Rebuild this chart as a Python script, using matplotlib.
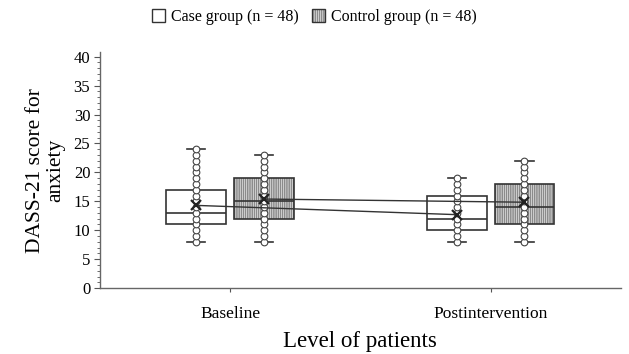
import matplotlib
matplotlib.use("Agg")
import matplotlib.pyplot as plt
from matplotlib.patches import Patch
from matplotlib.ticker import MultipleLocator

plt.rcParams['font.family'] = ['Liberation Serif', 'DejaVu Serif']
plt.rcParams['hatch.linewidth'] = 0.3
plt.rcParams['hatch.color'] = '#888888'

# data
levels = ['Baseline', 'Postintervention']
groups = ['Case group (n = 48)', 'Control group (n = 48)']

case_low = [8, 8]
case_q1 = [11, 10]
case_med = [13, 12]
case_q3 = [17, 16]
case_high = [24, 19]
case_mean = [14.3, 12.7]

ctrl_low = [8, 8]
ctrl_q1 = [12, 11]
ctrl_med = [15, 14]
ctrl_q3 = [19, 18]
ctrl_high = [23, 22]
ctrl_mean = [15.4, 14.85]

case_points = [
    [8, 9, 10, 11, 12, 13, 14, 15, 16, 17, 18, 19, 20, 21, 22, 23, 24],
    [8, 9, 10, 11, 12, 13, 14, 15, 16, 17, 18, 19],
]
ctrl_points = [
    [8, 9, 10, 11, 12, 13, 14, 15, 16, 17, 18, 19, 20, 21, 22, 23],
    [8, 9, 10, 11, 12, 13, 14, 15, 16, 17, 18, 19, 20, 21, 22],
]

fig = plt.figure(figsize=(6.29, 3.54), dpi=100)
ax = fig.add_axes([0.159, 0.186, 0.828, 0.667])

offset = 0.13
width = 0.23
line_c = '#333333'


def make_stats(low, q1, med, q3, high, mean):
    stats = []
    for i in range(len(low)):
        stats.append({'whislo': low[i], 'q1': q1[i], 'med': med[i], 'q3': q3[i],
                      'whishi': high[i], 'mean': mean[i], 'fliers': []})
    return stats


case_pos = [i + 1 - offset for i in range(len(levels))]
ctrl_pos = [i + 1 + offset for i in range(len(levels))]

for stats, pos, face, hatch in [
        (make_stats(case_low, case_q1, case_med, case_q3, case_high, case_mean), case_pos, 'white', None),
        (make_stats(ctrl_low, ctrl_q1, ctrl_med, ctrl_q3, ctrl_high, ctrl_mean), ctrl_pos, '#cccccc', '|||||||||')]:
    bp = ax.bxp(stats, positions=pos, widths=width, patch_artist=True, showmeans=False,
                boxprops=dict(facecolor=face, edgecolor=line_c, linewidth=1.2),
                medianprops=dict(color=line_c, linewidth=1.2),
                whiskerprops=dict(color=line_c, linewidth=1.0),
                capprops=dict(color=line_c, linewidth=1.2),
                capwidths=0.07, manage_ticks=False)
    if hatch:
        for b in bp['boxes']:
            b.set_hatch(hatch)

for pos, pts in zip(case_pos + ctrl_pos, case_points + ctrl_points):
    ax.plot([pos] * len(pts), pts, 'o', ms=4.8, mfc='white', mec='#444444', mew=0.8, zorder=4)

ax.plot(case_pos, case_mean, '-', color=line_c, lw=1.0, zorder=5)
ax.plot(ctrl_pos, ctrl_mean, '-', color=line_c, lw=1.0, zorder=5)
ax.plot(case_pos + ctrl_pos, case_mean + ctrl_mean, 'x', color='#222222', ms=7, mew=1.6, zorder=6)

ax.set_xlim(0.5, 2.5)
ax.set_ylim(0, 40.8)
ax.set_xticks([1, 2])
ax.set_xticklabels(levels, fontsize=12.5)
ax.yaxis.set_major_locator(MultipleLocator(5))
ax.yaxis.set_minor_locator(MultipleLocator(1))
ax.tick_params(axis='y', labelsize=12, length=4, width=0.8, color='#555555', pad=3)
ax.tick_params(axis='y', which='minor', length=2.5, width=0.6, color='#555555')
ax.tick_params(axis='x', length=3, width=0.8, color='#555555', pad=10)
for s in ['top', 'right']:
    ax.spines[s].set_visible(False)
for s in ['left', 'bottom']:
    ax.spines[s].set_color('#666666')
    ax.spines[s].set_linewidth(1.0)

ax.set_ylabel('DASS-21 score for\nanxiety', fontsize=15.5, labelpad=6, linespacing=1.1)
ax.set_xlabel('Level of patients', fontsize=16.5, labelpad=6)

handles = [Patch(facecolor='white', edgecolor=line_c, linewidth=1.0),
           Patch(facecolor='#cccccc', edgecolor=line_c, hatch='|||||||||', linewidth=1.0)]
fig.legend(handles, groups, loc='upper center', bbox_to_anchor=(0.5, 1.015), ncol=2,
           frameon=False, fontsize=11.5, handlelength=0.8, handleheight=0.8,
           handletextpad=0.4, columnspacing=0.8)

fig.savefig('out.png', dpi=100)
